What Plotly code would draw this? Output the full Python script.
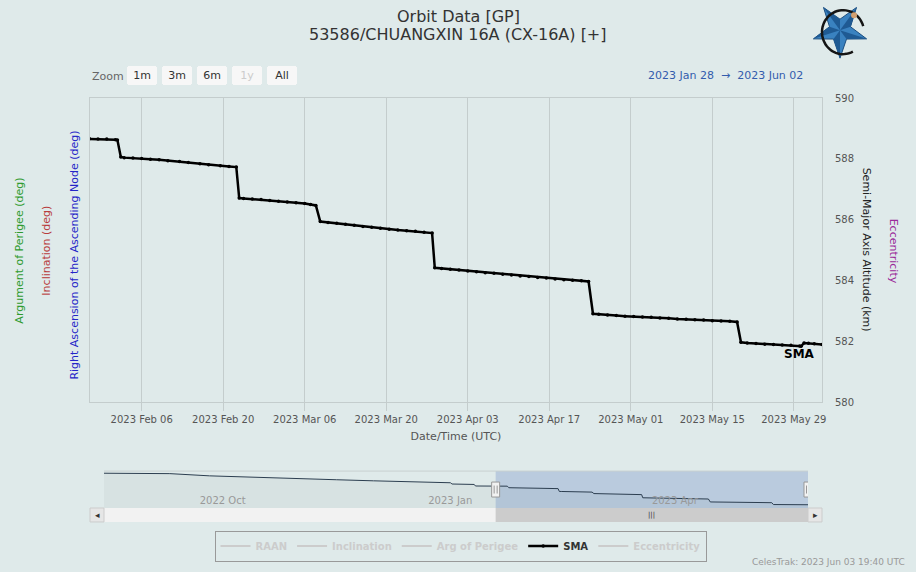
import math

import pandas as pd
import plotly.graph_objects as go

# SMA altitude (km), navigator covers the whole span
sma_time = [
    "2022-08-23 12:00", "2022-09-19 00:00", "2022-10-05 00:00", "2022-10-26 00:00",
    "2022-11-10 00:00", "2022-11-25 00:00", "2022-12-10 00:00", "2022-12-25 00:00",
    "2023-01-10 00:00", "2023-01-10 12:00", "2023-01-19 12:00", "2023-01-20 00:00",
    "2023-01-24 00:00", "2023-01-28 00:00", "2023-01-29 12:00", "2023-01-31 00:00",
    "2023-02-01 12:00", "2023-02-01 20:00", "2023-02-02 10:00", "2023-02-03 00:00",
    "2023-02-04 12:00", "2023-02-06 00:00", "2023-02-07 12:00", "2023-02-09 00:00",
    "2023-02-10 12:00", "2023-02-12 12:00", "2023-02-14 00:00", "2023-02-16 00:00",
    "2023-02-17 12:00", "2023-02-19 12:00", "2023-02-21 00:00", "2023-02-22 06:00",
    "2023-02-22 18:00", "2023-02-23 12:00", "2023-02-25 00:00", "2023-02-26 12:00",
    "2023-02-28 00:00", "2023-03-01 12:00", "2023-03-03 00:00", "2023-03-04 12:00",
    "2023-03-06 00:00", "2023-03-07 00:00", "2023-03-07 22:00", "2023-03-08 16:00",
    "2023-03-10 00:00", "2023-03-11 12:00", "2023-03-13 00:00", "2023-03-14 12:00",
    "2023-03-16 00:00", "2023-03-17 12:00", "2023-03-19 00:00", "2023-03-20 12:00",
    "2023-03-22 00:00", "2023-03-23 12:00", "2023-03-25 00:00", "2023-03-26 12:00",
    "2023-03-27 21:00", "2023-03-28 08:00", "2023-03-29 12:00", "2023-03-31 00:00",
    "2023-04-01 12:00", "2023-04-03 00:00", "2023-04-04 12:00", "2023-04-06 00:00",
    "2023-04-07 12:00", "2023-04-09 00:00", "2023-04-10 12:00", "2023-04-12 00:00",
    "2023-04-13 12:00", "2023-04-15 00:00", "2023-04-16 12:00", "2023-04-18 00:00",
    "2023-04-19 12:00", "2023-04-21 00:00", "2023-04-22 12:00", "2023-04-23 18:00",
    "2023-04-24 12:00", "2023-04-25 12:00", "2023-04-27 00:00", "2023-04-28 12:00",
    "2023-04-30 00:00", "2023-05-01 12:00", "2023-05-03 00:00", "2023-05-04 12:00",
    "2023-05-06 00:00", "2023-05-07 12:00", "2023-05-09 00:00", "2023-05-10 12:00",
    "2023-05-12 00:00", "2023-05-13 12:00", "2023-05-15 00:00", "2023-05-16 12:00",
    "2023-05-18 00:00", "2023-05-19 06:00", "2023-05-19 22:00", "2023-05-21 00:00",
    "2023-05-22 12:00", "2023-05-24 00:00", "2023-05-25 12:00", "2023-05-27 00:00",
    "2023-05-28 12:00", "2023-05-30 00:00", "2023-05-30 06:00", "2023-05-30 18:00",
    "2023-05-31 12:00", "2023-06-01 12:00", "2023-06-02 20:00",
]
sma_km = [
    593.30, 593.15, 592.35, 591.66,
    591.30, 590.94, 590.55, 590.15,
    589.85, 589.40, 589.24, 588.68,
    588.67, 588.66, 588.65, 588.65,
    588.63, 588.62, 588.06, 588.04,
    588.03, 588.01, 587.99, 587.97,
    587.94, 587.91, 587.88, 587.84,
    587.81, 587.77, 587.75, 587.73,
    586.71, 586.70, 586.68, 586.66,
    586.63, 586.61, 586.58, 586.56,
    586.53, 586.50, 586.47, 585.94,
    585.91, 585.88, 585.85, 585.82,
    585.78, 585.75, 585.72, 585.69,
    585.66, 585.64, 585.62, 585.59,
    585.56, 584.42, 584.40, 584.37,
    584.35, 584.31, 584.29, 584.26,
    584.24, 584.21, 584.18, 584.15,
    584.13, 584.10, 584.08, 584.05,
    584.03, 584.01, 583.99, 583.97,
    582.91, 582.89, 582.87, 582.85,
    582.83, 582.82, 582.80, 582.79,
    582.77, 582.76, 582.74, 582.73,
    582.71, 582.70, 582.68, 582.67,
    582.66, 582.64, 581.97, 581.95,
    581.93, 581.91, 581.90, 581.88,
    581.87, 581.85, 581.84, 581.95,
    581.94, 581.92, 581.90,
]

hidden_series = ["RAAN", "Inclination", "Arg of Perigee"]
hidden_after = ["Eccentricity"]

range_start = "2023-01-28 03:00"
range_end = "2023-06-02 20:00"
nav_start = "2022-08-23 12:00"
nav_end = "2023-06-02 20:00"
nav_ticks = ["2022-10-01", "2023-01-01", "2023-04-01"]
y_range = [580, 590]
nav_y_range = [580.72, 594.07]

bg = "#dfeaea"
grid = "#c4cdcd"
font_family = "DejaVu Sans"

# page is laid out in pixels: plot area 90..822 x 98..509
PL, PW, PB, PH = 90, 732, 509, 411


def px_x(x):
    return (x - PL) / PW


def px_y(y):
    return (PB - y) / PH


def dummy(name):
    return go.Scatter(x=[None], y=[None], mode="lines", name=f"<span style='color:#cccccc'>{name}</span>",
                      line=dict(color="#cccccc", width=2), hoverinfo="skip")


fig = go.Figure()
for s in hidden_series:
    fig.add_trace(dummy(s))
fig.add_trace(go.Scatter(x=sma_time, y=sma_km, mode="lines+markers", name="SMA",
                         line=dict(color="black", width=2.5),
                         marker=dict(color="black", size=3.5)))
for s in hidden_after:
    fig.add_trace(dummy(s))

# navigator
fig.add_trace(go.Scatter(x=sma_time, y=sma_km, xaxis="x2", yaxis="y2", mode="lines",
                         line=dict(color="#2c3e50", width=1), fill="tozeroy",
                         fillcolor="rgba(20,40,60,0.04)", showlegend=False, hoverinfo="skip"))

t0 = pd.Timestamp(range_start)
t1 = pd.Timestamp(range_end)
t_mid = t0 + (t1 - t0) / 2
nav_mid = sum(nav_y_range) / 2

sb0, sb1 = -14 / PH, 0
shapes = [
    # selected region in navigator
    dict(type="rect", xref="x2", yref="y2 domain", x0=range_start, x1=range_end, y0=0, y1=1,
         fillcolor="rgba(102,133,194,0.3)", line_width=0, layer="below"),
    dict(type="line", xref="x2 domain", yref="y2 domain", x0=0, x1=1, y0=1, y1=1,
         line=dict(color="#c8d0d0", width=1)),
    # scrollbar
    dict(type="rect", xref="x2 domain", yref="paper", x0=0, x1=1, y0=sb0, y1=sb1,
         fillcolor="#f2f2f2", line_width=0),
    dict(type="rect", xref="x2", yref="paper", x0=range_start, x1=range_end, y0=sb0, y1=sb1,
         fillcolor="#cccccc", line_width=0),
    dict(type="rect", xref="paper", yref="paper", x0=0, x1=14 / PW, y0=sb0, y1=sb1,
         fillcolor="#e6e6e6", line=dict(color="#cccccc", width=1)),
    dict(type="rect", xref="paper", yref="paper", x0=718 / PW, x1=1, y0=sb0, y1=sb1,
         fillcolor="#e6e6e6", line=dict(color="#cccccc", width=1)),
]

# logo: star with darker facets, an open ring and a small dot (path y grows downward)
logo = dict(xref="paper", yref="paper", xsizemode="pixel", ysizemode="pixel",
            xanchor=px_x(840), yanchor=px_y(30))
R_out, R_in = 28, 11
pts = []
for k in range(10):
    r = R_out if k % 2 == 0 else R_in
    a = math.radians(90 + 36 * k)
    pts.append((r * math.cos(a), -r * math.sin(a)))
star_path = "M " + " L ".join(f"{x:.1f} {y:.1f}" for x, y in pts) + " Z"
shapes.append(dict(type="path", path=star_path, fillcolor="#3a82c0",
                   line=dict(color="#1d4f80", width=1), **logo))
for k in range(0, 10, 2):
    ox, oy = pts[k]
    ix, iy = pts[(k + 1) % 10]
    shapes.append(dict(type="path", path=f"M 0 0 L {ox:.1f} {oy:.1f} L {ix:.1f} {iy:.1f} Z",
                       fillcolor="#1f5a93", line_width=0, **logo))
ring = [(3 + 21 * math.cos(math.radians(a)), -2 - 22 * math.sin(math.radians(a)))
        for a in range(62, 345, 6)]
ring_path = "M " + " L ".join(f"{x:.1f} {y:.1f}" for x, y in ring)
shapes.append(dict(type="path", path=ring_path, line=dict(color="#151515", width=2.5), **logo))
# circles count pixel y upward
shapes.append(dict(type="circle", x0=11, x1=17, y0=12, y1=18, fillcolor="#d4a070",
                   line_width=0, **logo))

for t in [range_start, range_end]:
    shapes.append(dict(type="rect", xref="x2", yref="y2", xsizemode="pixel", ysizemode="pixel",
                       xanchor=t, yanchor=nav_mid, x0=-4, x1=4, y0=-7.5, y1=7.5,
                       fillcolor="#f2f2f2", line=dict(color="#999999", width=1)))
    shapes.append(dict(type="path", xref="x2", yref="y2", xsizemode="pixel", ysizemode="pixel",
                       xanchor=t, yanchor=nav_mid, path="M -1.5 -4 L -1.5 4 M 1.5 -4 L 1.5 4",
                       line=dict(color="#999999", width=1)))

annotations = [
    dict(text="Orbit Data [GP]", xref="paper", yref="paper", x=px_x(458), y=px_y(16),
         yanchor="middle", showarrow=False, font=dict(size=16, color="#333333")),
    dict(text="53586/CHUANGXIN 16A (CX-16A) [+]", xref="paper", yref="paper", x=px_x(458),
         y=px_y(34), yanchor="middle", showarrow=False, font=dict(size=16, color="#333333")),
    dict(text="Zoom", xref="paper", yref="paper", x=0, y=px_y(76), xanchor="left",
         yanchor="middle", showarrow=False, font=dict(size=11, color="#666666")),
    dict(text=f"{t0:%Y %b %d}  →  {t1:%Y %b %d}", xref="paper", yref="paper",
         x=px_x(805), y=px_y(75), xanchor="right", yanchor="middle",
         showarrow=False, font=dict(size=11, color="#335cad")),
    dict(text="Argument of Perigee (deg)", xref="paper", yref="paper", x=px_x(20),
         y=px_y(251), xanchor="center", yanchor="middle", textangle=-90, showarrow=False,
         font=dict(size=11, color="#2e9a2e")),
    dict(text="Inclination (deg)", xref="paper", yref="paper", x=px_x(47),
         y=px_y(251), xanchor="center", yanchor="middle", textangle=-90, showarrow=False,
         font=dict(size=11, color="#b83c3c")),
    dict(text="Right Ascension of the Ascending Node (deg)", xref="paper", yref="paper",
         x=px_x(75), y=px_y(256), xanchor="center", yanchor="middle", textangle=-90,
         showarrow=False, font=dict(size=11, color="#2424c8")),
    dict(text="Semi-Major Axis Altitude (km)", xref="paper", yref="paper", x=px_x(866),
         y=px_y(250), xanchor="center", yanchor="middle", textangle=90, showarrow=False,
         font=dict(size=11, color="#222222")),
    dict(text="Eccentricity", xref="paper", yref="paper", x=px_x(893),
         y=px_y(251), xanchor="center", yanchor="middle", textangle=90, showarrow=False,
         font=dict(size=11, color="#9a2a9a")),
    dict(text="<b>SMA</b>", x="2023-05-30 00:00", y=581.58, showarrow=False,
         font=dict(size=12, color="black")),
    dict(text="CelesTrak: 2023 Jun 03 19:40 UTC", xref="paper", yref="paper", x=px_x(907),
         y=px_y(563), xanchor="right", yanchor="middle", showarrow=False,
         font=dict(size=9, color="#999999")),
    dict(text="◂", xref="paper", yref="paper", x=7 / PW, y=-7 / PH, xanchor="center",
         yanchor="middle", showarrow=False, font=dict(size=9, color="#333333")),
    dict(text="▸", xref="paper", yref="paper", x=725 / PW, y=-7 / PH, xanchor="center",
         yanchor="middle", showarrow=False, font=dict(size=9, color="#333333")),
    dict(text="|||", xref="x2", yref="paper", x=t_mid, y=-7 / PH, xanchor="center",
         yanchor="middle", showarrow=False, font=dict(size=7, color="#333333")),
]

fig.update_layout(
    width=916, height=572,
    paper_bgcolor=bg, plot_bgcolor=bg,
    font=dict(family=font_family, color="#333333"),
    margin=dict(l=PL, r=916 - PL - PW, t=PB - PH, b=572 - PB),
    xaxis=dict(domain=[0, 1], anchor="y", type="date", range=[range_start, range_end],
               tick0="2023-02-06", dtick=14 * 86400000, tickformat="%Y %b %d",
               showgrid=True, gridcolor=grid, showline=True, linecolor=grid, mirror=True,
               ticks="outside", ticklen=8, tickcolor=grid, zeroline=False,
               tickfont=dict(size=10, color="#555555"),
               title=dict(text="Date/Time (UTC)", font=dict(size=11, color="#555555"), standoff=8),
               rangeselector=dict(
                   buttons=[dict(count=1, label="1m", step="month", stepmode="backward"),
                            dict(count=3, label="3m", step="month", stepmode="backward"),
                            dict(count=6, label="6m", step="month", stepmode="backward"),
                            dict(count=1, label="<span style='color:#cccccc'>1y</span>",
                                 step="year", stepmode="backward"),
                            dict(label="All", step="all")],
                   x=px_x(126.5), y=px_y(66), xanchor="left", yanchor="top",
                   bgcolor="#f7f7f7", activecolor="#e6ebf5", borderwidth=0,
                   font=dict(size=11, color="#333333"))),
    yaxis=dict(domain=[px_y(403), 1], anchor="x", side="right", range=y_range, dtick=2,
               showgrid=False, showline=True, linecolor=grid, mirror=True, zeroline=False,
               ticks="", ticklabelstandoff=10, tickfont=dict(size=10, color="#555555")),
    xaxis2=dict(domain=[14 / PW, 718 / PW], anchor="y2", type="date", range=[nav_start, nav_end],
                tickvals=nav_ticks, tickformat="%Y %b", ticklabelposition="inside right",
                ticklabelstandoff=-4,
                tickfont=dict(size=10, color="#999999"), showgrid=False, ticks="",
                showline=False, zeroline=False),
    yaxis2=dict(domain=[0, px_y(472)], anchor="x2", range=nav_y_range, visible=False),
    legend=dict(orientation="h", x=px_x(460.5), xanchor="center", y=px_y(546), yanchor="middle",
                bordercolor="#999999", borderwidth=1, bgcolor="rgba(0,0,0,0)",
                font=dict(size=10, color="#333333", weight="bold")),
    shapes=shapes,
    annotations=annotations,
    showlegend=True,
)

# body has an 8px default margin; drop it so the 916x572 figure fills the window
fig.write_html("out.html", config={"displayModeBar": False},
               post_script="document.body.style.margin='0';")
